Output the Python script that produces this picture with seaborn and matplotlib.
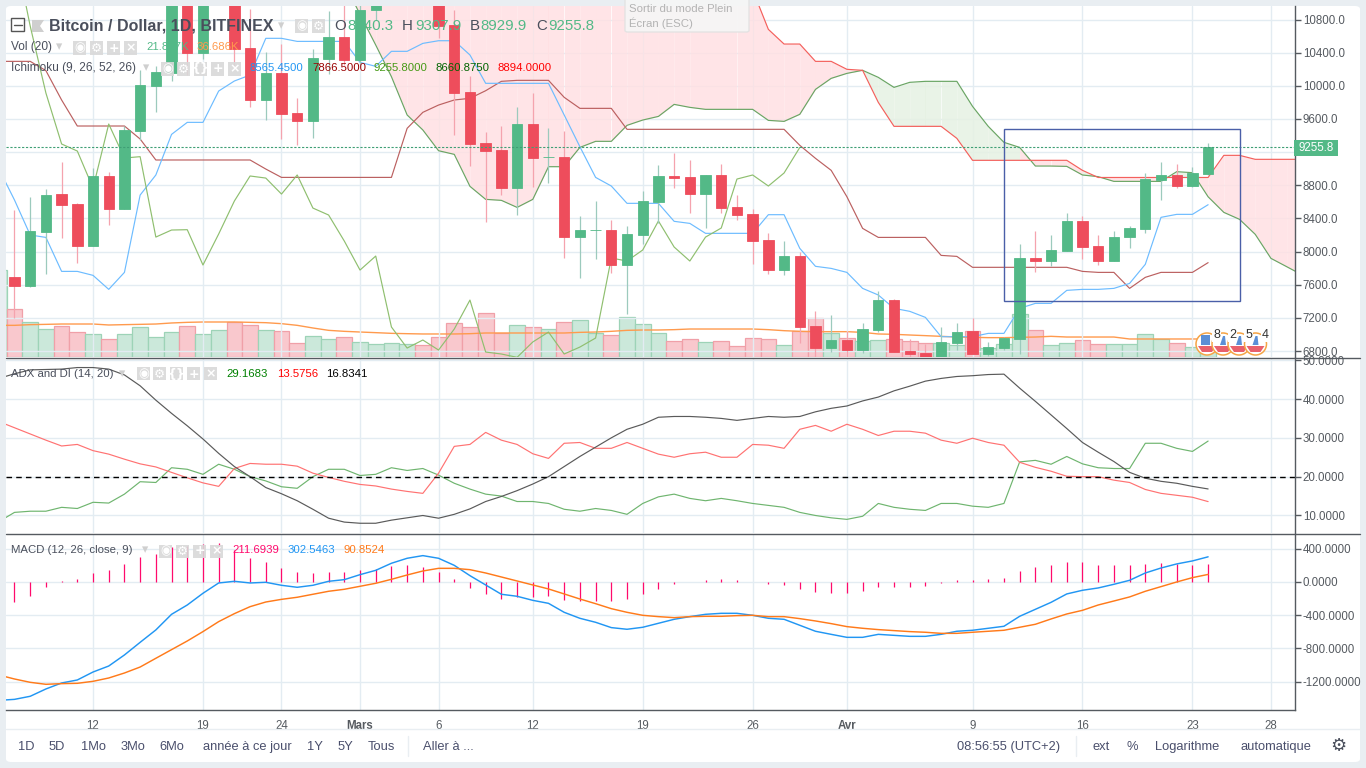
import numpy as np
import pandas as pd
import seaborn as sns
import matplotlib.pyplot as plt
from matplotlib.patches import Rectangle, FancyBboxPatch, Polygon, Ellipse
from matplotlib.lines import Line2D

# day index: 0 = 7 Feb, last candle (76) = 24 Apr, first entry is the bar cut off at the left edge
days = np.arange(-1, 77)

opens = [7300, 7693, 7584, 8236, 8694, 8574, 8067, 8912, 8513, 9455, 9997, 10154, 11050, 10400, 11000, 11200, 10456,
         9829, 10154, 9672, 9575, 10323, 10589, 10311, 10914, 11100, 11300, 11800, 11650, 10733, 9925, 9310, 9225,
         8767, 9539, 9141, 9141, 8175, 8260, 8260, 7838, 8200, 8598, 8912, 8899, 8694, 8924, 8538, 8453, 8139, 7777,
         7946, 7102, 6836, 6933, 6812, 7053, 7415, 6800, 6776, 6712, 6897, 7041, 6764, 6836, 6945, 7922, 7886, 8007,
         8369, 8067, 7886, 8175, 8272, 8863, 8924, 8791, 8940.3]
highs = [7900, 8501, 8662, 8755, 9080, 8586, 9008, 8960, 9515, 10191, 10240, 11150, 11100, 11050, 11300, 11250, 10927,
         10408, 10504, 9853, 10444, 10902, 11000, 11020, 11200, 11350, 11550, 11900, 11700, 10914, 10118, 9442, 9515,
         9744, 9913, 9491, 9455, 8429, 8610, 8381, 8308, 8731, 9044, 9189, 9105, 8924, 9056, 8682, 8513, 8224, 8127,
         8000, 7283, 7234, 7041, 7138, 7524, 7427, 6941, 6880, 7090, 7138, 7198, 6909, 6975, 8091, 8248, 8200, 8465,
         8429, 8200, 8248, 8308, 8948, 9080, 9056, 9020, 9307.9]
lows = [7000, 7194, 7576, 7729, 8163, 7862, 8067, 8320, 8513, 9346, 9684, 10058, 10130, 10323, 10990, 10231, 9744,
        9587, 9358, 9286, 9370, 10142, 10250, 10250, 10794, 11050, 11200, 11500, 10577, 9406, 9032, 8357, 8682,
        8441, 8779, 8827, 7922, 7681, 7910, 7741, 7246, 8091, 8340, 8767, 8465, 8284, 8465, 8381, 7850, 7729, 7717,
        6893, 6724, 6788, 6724, 6772, 7029, 6788, 6712, 6700, 6700, 6812, 6764, 6740, 6812, 6764, 7753, 7826, 8007,
        7910, 7838, 7886, 8043, 8224, 8622, 8767, 8779, 8929.9]
closes = [7700, 7584, 8248, 8682, 8562, 8067, 8912, 8513, 9467, 10010, 10166, 11000, 10400, 11000, 11200, 10444, 9829,
          10154, 9660, 9575, 10335, 10589, 10311, 10914, 11100, 11300, 11500, 11650, 10721, 9913, 9298, 9213, 8767,
          9539, 9129, 9145, 8175, 8260, 8264, 7838, 8212, 8610, 8912, 8887, 8694, 8924, 8525, 8441, 8127, 7777, 7946,
          7090, 6836, 6933, 6812, 7065, 7415, 6788, 6764, 6724, 6909, 7029, 6764, 6848, 6957, 7922, 7886, 8019, 8369,
          8055, 7886, 8175, 8284, 8875, 8924, 8791, 8948, 9255.8]

volume = [178, 98, 72, 57, 64, 50, 47, 37, 47, 62, 41, 50, 64, 47, 56, 72, 66, 56, 52, 29, 43, 37, 41, 31, 26, 29, 26,
          24, 41, 69, 61, 90, 49, 65, 61, 57, 72, 75, 49, 45, 81, 67, 49, 33, 37, 31, 33, 22, 39, 37, 24, 52, 79, 49,
          39, 33, 35, 37, 33, 29, 29, 24, 53, 18, 26, 88, 55, 24, 29, 35, 26, 26, 26, 47, 37, 29, 20, 21.877]
volume_ma = [64.5, 64.5, 65.9, 66.5, 67.2, 67.2, 67.2, 65.2, 65.9, 66.5, 67.2, 69.3, 70.6, 71.3, 71.3, 71.3, 70.6, 69.9,
             67.9, 64.5, 59.1, 54.3, 52.3, 50.9, 49.6, 48.2, 47.5, 46.9, 46.9, 46.9, 47.5, 48.9, 48.9, 48.9, 48.9, 48.9,
             48.9, 50.2, 50.9, 52.3, 54.3, 55, 55, 55.7, 57, 57, 57, 57, 57, 55.7, 53.6, 52.3, 51.6, 51.6, 51.6, 50.2,
             46.9, 46.2, 44.8, 43.5, 42.1, 40.7, 40.1, 39.4, 39.4, 40.1, 40.7, 42.1, 40.7, 40.7, 40.7, 40.7, 36.686,
             36.686, 36.686, 36.686, 36.686, 36.686]

tenkan = [9000, 8622, 8200, 8171, 7761, 7761, 7713, 7544, 7749, 8682, 8924, 9414, 9559, 9559, 9937, 10058, 10130, 10573,
          10573, 10536, 10536, 10536, 10536, 10283, 10235, 10416, 10416, 10512, 10544, 10544, 10372, 10030, 10030, 10030,
          10030, 10030, 9648, 9265, 8895, 8791, 8582, 8582, 8582, 8365, 8340, 8220, 8220, 8220, 8220, 8445, 8445, 8039,
          7822, 7797, 7749, 7556, 7476, 7315, 7279, 7206, 6973, 6973, 6973, 7013, 7013, 7315, 7375, 7375, 7532, 7544,
          7544, 7556, 7616, 7846, 8413, 8449, 8449, 8565.45]
kijun = [10295, 10295, 10295, 10183, 9829, 9515, 9515, 9515, 9515, 9358, 9105, 9105, 9105, 9105, 9105, 9105, 9105, 8996,
         8895, 8895, 8895, 8895, 8895, 8895, 8895, 8895, 9487, 9680, 9768, 9829, 9849, 9941, 10054, 10066, 10066, 10066,
         9861, 9728, 9728, 9728, 9475, 9475, 9475, 9475, 9475, 9475, 9475, 9475, 9475, 9475, 9475, 9282, 9125, 8980,
         8662, 8280, 8171, 8171, 8171, 8171, 7954, 7942, 7810, 7810, 7810, 7810, 7810, 7810, 7810, 7761, 7749, 7749,
         7556, 7689, 7749, 7749, 7749, 7866.5]

# leading spans run from day 20 to day 82, the first ones sit above the visible range
span_days = np.arange(20, 83)
span_a = [11500, 11240, 10862, 10492, 10110, 9648, 9467, 9217, 9173, 8787, 8630, 8618, 8533, 8630, 9024, 9024, 9257,
          9330, 9330, 9523, 9587, 9631, 9776, 9740, 9716, 9716, 9716, 9716, 9583, 9571, 9656, 9957, 10090, 10150, 10187,
          10102, 9981, 10042, 10054, 10054, 10054, 9752, 9511, 9318, 9257, 9032, 9032, 9028, 8924, 8904, 8847, 8847,
          8847, 8847, 8964, 8952, 8660.875, 8473, 8389, 8208, 7918, 7818, 7717]
span_b = [11400, 11400, 11400, 11400, 11400, 11400, 11400, 11400, 11400, 11400, 11400, 11400, 11400, 11400, 11400, 11400,
          11400, 11400, 11400, 11400, 11400, 11400, 11400, 11400, 11400, 11400, 11400, 11156, 10681, 10504, 10504, 10295,
          10295, 10199, 10187, 9800, 9511, 9511, 9511, 9511, 9366, 9101, 9101, 9101, 9101, 9101, 9101, 9101, 8980, 8894,
          8894, 8894, 8894, 8894, 8894, 8894, 8894, 9161, 9161, 9113, 9113, 9113, 9113]

di_plus = [8.4, 10.8, 11.1, 11.1, 12.1, 11.8, 13.4, 13.2, 15.5, 18.7, 18.5, 22.3, 21.9, 20.6, 23.2, 21.9, 20, 18.9, 17.4,
           17, 20, 21.9, 21.9, 20.3, 20.6, 22.3, 21.6, 22.1, 20.4, 18.3, 16.8, 15.5, 15, 13.6, 13.6, 13.1, 11.6, 11.1,
           11.8, 11.3, 10.3, 13.1, 14.8, 15.5, 14.4, 13.8, 14.4, 13.8, 13.1, 12.6, 12.1, 10.8, 10, 9.4, 9, 9.8, 13.1,
           12.1, 11.6, 11.3, 13.1, 13.1, 12.4, 12.1, 13.1, 23.8, 24.2, 23.2, 25.2, 23.3, 22.3, 22.1, 22.1, 28.6, 28.6,
           27.3, 26.5, 29.1683]
di_minus = [34.2, 32.6, 31, 29.4, 27.9, 28.3, 26.7, 25.8, 24.5, 23.3, 22.5, 21.1, 19.7, 18.4, 17.5, 22.1, 23.4, 23.2, 23.2,
            22.7, 20.9, 19.8, 18.8, 18, 17.6, 16.8, 16.2, 15.7, 20.9, 27.8, 28.3, 31.4, 29.4, 28.3, 25.9, 24.7, 28.6, 28.8,
            27.3, 27.3, 28.8, 27.3, 25.8, 25, 25.9, 26.3, 25, 25, 28.3, 28.1, 27.3, 32.2, 33.2, 31.7, 33.5, 32.2, 30.6,
            31.7, 31.7, 31.2, 29.4, 28.6, 29.9, 28.8, 28.1, 23.7, 22.4, 21.4, 20.1, 20, 20, 19.1, 18.5, 16.7, 15.7, 15.2,
            14.7, 13.5756]
adx = [45.3, 46.5, 47.5, 47.6, 47.7, 48.1, 48.1, 47.7, 46.2, 43.4, 39.7, 36.3, 33.1, 29.7, 26, 22.6, 20, 17.2, 15.6, 13.8,
       11.6, 9.3, 8.3, 8, 8, 8.8, 9.4, 10, 9.3, 10.3, 11.7, 13.6, 14.9, 16.4, 18.1, 20, 22.6, 25.2, 27.6, 30, 32.2, 33.5,
       35.3, 35.5, 35.5, 35.3, 35, 34.5, 35, 35.5, 35.3, 35.5, 36.7, 37.6, 38.2, 39.5, 40.5, 42.1, 43.3, 44.6, 45.3, 45.8,
       46, 46.3, 46.4, 42.8, 39.4, 35.9, 32.4, 28.8, 26.3, 23.9, 21.1, 19.6, 18.8, 18.3, 17.5, 16.8341]

macd = [-1424, -1412, -1375, -1287, -1215, -1179, -1083, -1011, -878, -726, -577, -389, -277, -136, -12, 8, -12, -4, -40,
        -64, -40, 8, 28, 88, 140, 225, 285, 317, 285, 200, 76, -36, -148, -172, -221, -257, -365, -437, -485, -549, -569,
        -545, -497, -449, -417, -389, -377, -377, -401, -437, -449, -521, -593, -630, -666, -666, -630, -642, -654, -654,
        -630, -593, -581, -557, -533, -413, -329, -245, -144, -100, -72, -28, 20, 108, 168, 217, 253, 302.5463]
signal = [-1119, -1167, -1207, -1231, -1223, -1219, -1195, -1155, -1095, -1023, -918, -814, -710, -597, -477, -381, -297,
          -241, -209, -184, -148, -112, -88, -52, -16, 32, 84, 132, 164, 164, 148, 108, 60, 12, -36, -84, -144, -205, -261,
          -321, -365, -401, -417, -429, -417, -413, -413, -405, -401, -417, -417, -441, -469, -501, -537, -557, -573, -585,
          -597, -605, -618, -618, -605, -593, -581, -545, -509, -445, -385, -341, -277, -229, -180, -112, -56, 0, 52, 90.8524]

last_price = 9255.8
box_days = [63, 78]
box_prices = [7399, 9475]
adx_level = 20

date_ticks = [5, 12, 17, 22, 27, 33, 40, 47, 53, 61, 68, 75, 80]
date_labels = ["12", "19", "24", "Mars", "6", "12", "19", "26", "Avr", "9", "16", "23", "28"]
price_ticks = [6800, 7200, 7600, 8000, 8400, 8800, 9200, 9600, 10000, 10400, 10800]
# the 9200 label sits under the last price tag
price_labels = ["6800.0", "7200.0", "7600.0", "8000.0", "8400.0", "8800.0", "", "9600.0", "10000.0", "10400.0",
                "10800.0"]
adx_ticks = [10, 20, 30, 40, 50]
adx_labels = ["10.0000", "20.0000", "30.0000", "40.0000", "50.0000"]
macd_ticks = [-1200, -800, -400, 0, 400]
macd_labels = ["-1200.0000", "-800.0000", "-400.0000", "0.0000", "400.0000"]

W, H = 1366, 768
UP, DOWN = "#53b987", "#ee4d5c"
GRID = "#e3ecf2"
AXIS = "#555a60"
TEXT = "#4a4f5c"

sns.set_theme(style="white")
plt.rcParams['font.family'] = ['Liberation Sans', 'DejaVu Sans']

fig = plt.figure(figsize=(W / 100, H / 100), dpi=100, facecolor="#e9eef2")


def fx(x):
    return x / W


def fy(y):
    return 1 - y / H


def pane(top, bottom):
    return [fx(6), fy(bottom), fx(1288.5), (bottom - top) / H]


def style_axis(ax, ticks, labels):
    ax.set_xlim(-0.541, 81.5)
    ax.set_xticks(date_ticks)
    ax.set_yticks(ticks)
    ax.set_yticklabels(labels)
    ax.yaxis.tick_right()
    ax.grid(True, color=GRID, lw=1)
    ax.set_axisbelow(True)
    ax.tick_params(axis="y", length=4, width=1, color=AXIS, labelcolor=AXIS, labelsize=8.3, pad=2)
    ax.tick_params(axis="x", length=0, labelbottom=False)
    for s in ["top", "left", "bottom"]:
        ax.spines[s].set_visible(False)
    ax.spines["right"].set_color(AXIS)
    ax.spines["right"].set_linewidth(1)
    ax.set_xlabel("")
    ax.set_ylabel("")


def line(ax, x, y, color, lw=0.85):
    sns.lineplot(x=x, y=y, ax=ax, color=color, lw=lw, estimator=None, errorbar=None, sort=False, legend=False)


# white card behind everything
fig.add_artist(FancyBboxPatch((fx(6), fy(762)), fx(1354), 756 / H, boxstyle="round,pad=0,rounding_size=0.004",
                              transform=fig.transFigure, fc="white", ec="none", zorder=-5))

# volume sits in its own axes under the price axes
ax_vol = fig.add_axes(pane(6, 357), zorder=1)
ax_price = fig.add_axes(pane(6, 357), zorder=2)
ax_adx = fig.add_axes(pane(358, 533), zorder=2)
ax_macd = fig.add_axes(pane(534, 710), zorder=2)

opens_a, highs_a, lows_a, closes_a = map(np.array, (opens, highs, lows, closes))
rising = closes_a >= opens_a

ax_vol.bar(days, volume, width=1.0, color=np.where(rising, "#cbe8da", "#f9c8cd"),
           edgecolor=np.where(rising, "#9dd3b7", "#f0a0a8"), linewidth=0.9)
line(ax_vol, days, volume_ma, "#ff9a4d", 1.0)
ax_vol.set_xlim(-0.541, 81.5)
ax_vol.set_ylim(0, 715)
ax_vol.axis("off")

# price pane
ax_price.patch.set_alpha(0)
style_axis(ax_price, price_ticks, price_labels)
ax_price.set_ylim(6728, 10963)

span_a_arr, span_b_arr = np.array(span_a), np.array(span_b)
for k in range(len(span_days) - 1):
    cloud = "#ffe0e3" if span_b_arr[k + 1] >= span_a_arr[k + 1] else "#e6f1e3"
    ax_price.fill_between(span_days[k:k + 2], span_a_arr[k:k + 2], span_b_arr[k:k + 2], color=cloud, lw=0, alpha=0.85,
                          zorder=1.2)

line(ax_price, span_days, span_a, "#6aa564")
line(ax_price, span_days, span_b, "#f4605c")
line(ax_price, days, kijun, "#bb6060")
line(ax_price, days, tenkan, "#6dbcff")
line(ax_price, days - 26, closes, "#8fbf6f")

ax_price.vlines(days, lows, highs, colors=np.where(rising, "#9ccabd", "#f5a3ae"), lw=0.9, zorder=3)
ax_price.bar(days, np.abs(closes_a - opens_a), bottom=np.minimum(opens_a, closes_a), width=0.66,
             color=np.where(rising, UP, DOWN), edgecolor=np.where(rising, UP, DOWN), linewidth=0.6, zorder=3.1)

ax_price.axhline(last_price, color="#3f9f75", ls=(0, (2, 1.5)), lw=0.8, zorder=3.2)
ax_price.add_patch(Rectangle((box_days[0], box_prices[0]), box_days[1] - box_days[0], box_prices[1] - box_prices[0],
                             fc="none", ec="#4a5fa8", lw=1, zorder=4))

# ADX pane
style_axis(ax_adx, adx_ticks, adx_labels)
ax_adx.set_ylim(5.49, 50.56)
line(ax_adx, days, di_plus, "#6fb56f")
line(ax_adx, days, di_minus, "#ff7272")
line(ax_adx, days, adx, "#5a5a5a")
ax_adx.axhline(adx_level, color="black", ls=(0, (4, 3)), lw=1)

# MACD pane
style_axis(ax_macd, macd_ticks, macd_labels)
ax_macd.set_ylim(-1540, 577)
hist = np.array(macd) - np.array(signal)
ax_macd.vlines(days, 0, hist, colors="#ff0a6c", lw=0.9)
line(ax_macd, days, macd, "#2196f3", 1.05)
line(ax_macd, days, signal, "#ff7a1a", 1.05)

ax_macd.spines["bottom"].set_visible(True)
ax_macd.spines["bottom"].set_color(AXIS)
ax_macd.spines["bottom"].set_linewidth(1)
ax_macd.set_xticks(date_ticks)
ax_macd.set_xticklabels(date_labels)
ax_macd.tick_params(axis="x", length=4, width=1, color=AXIS, labelbottom=True, labelsize=8.3, labelcolor=AXIS, pad=3)
for lab, txt in zip(ax_macd.get_xticklabels(), date_labels):
    if txt in ("Mars", "Avr"):
        lab.set_fontweight("bold")

# full width separators and toolbar rule
for y in (357.5, 533.5):
    fig.add_artist(Line2D([fx(6), fx(1360)], [fy(y), fy(y)], color=AXIS, lw=1, zorder=4))
fig.add_artist(Line2D([fx(6), fx(1360)], [fy(729), fy(729)], color="#e9eef2", lw=1, zorder=4))
for x in (408, 1076):
    fig.add_artist(Line2D([fx(x), fx(x)], [fy(736), fy(756)], color="#e9eef2", lw=1, zorder=4))


def label(x, y, s, color=TEXT, size=8.6, **kw):
    return fig.text(fx(x), fy(y), s, color=color, fontsize=size, va="center", ha=kw.pop("ha", "left"), zorder=6, **kw)


def buttons(xs, y, glyphs):
    for x, g in zip(xs, glyphs):
        fig.add_artist(Rectangle((fx(x), fy(y + 6.5)), 13 / W, 13 / H, transform=fig.transFigure, fc="#d9d9d9", ec="none",
                                 alpha=0.9, zorder=5))
        fig.text(fx(x + 6.5), fy(y), g, color="white", fontsize=9, ha="center", va="center", zorder=6,
                 family=["DejaVu Sans"], fontweight="bold")


def caret(x, y):
    fig.text(fx(x), fy(y), "▾", color="#cfcfcf", fontsize=9, ha="center", va="center", zorder=6, family=["DejaVu Sans"])


# legend rows
fig.add_artist(Rectangle((fx(11), fy(31)), 13 / W, 13 / H, transform=fig.transFigure, fc="white", ec="#555555", lw=1, zorder=5))
fig.add_artist(Line2D([fx(13.5), fx(21.5)], [fy(24.5), fy(24.5)], color="#555555", lw=1, zorder=6))
fig.add_artist(Polygon([(fx(32), fy(20)), (fx(44), fy(20)), (fx(40), fy(26)), (fx(44), fy(32)), (fx(32), fy(32))],
                       transform=fig.transFigure, fc="#cfcfcf", ec="none", zorder=5))
label(49, 26, "Bitcoin / Dollar, 1D, BITFINEX", "#4a4f5c", 11.5, fontweight="bold")
caret(281, 26)
buttons([295, 312], 26, ["◉", "⚙"])
for x, s, c in zip([334, 347, 402, 415, 470, 480, 536, 548],
                   ["O", "8940.3", "H", "9307.9", "B", "8929.9", "C", "9255.8"],
                   [TEXT, UP, TEXT, UP, TEXT, UP, TEXT, UP]):
    label(x, 26, s, c, 10.8)

label(11, 47, "Vol (20)")
caret(59, 47)
buttons([73, 90, 107, 124], 48, ["◉", "⚙", "+", "×"])
label(146, 47, "21.877K", UP, 8.2)
label(197, 47, "36.686K", "#ff9a4d", 8.2)

label(11, 68, "Ichimoku (9, 26, 52, 26)")
caret(146, 68)
buttons([161, 177, 194, 211, 228], 69, ["◉", "⚙", "{}", "+", "×"])
for x, s, c in zip([250, 312, 374, 436, 498], ["8565.4500", "7866.5000", "9255.8000", "8660.8750", "8894.0000"],
                   ["#2196f3", "#990000", "#459915", "#006400", "#ff0000"]):
    label(x, 68, s, c, 8.2)

label(11, 374, "ADX and DI (14, 20)", size=8.2)
caret(122, 374)
buttons([137, 153, 170, 187, 204], 374, ["◉", "⚙", "{}", "+", "×"])
for x, s, c in zip([226, 277, 326], ["29.1683", "13.5756", "16.8341"], ["#008000", "#ff0000", "#000000"]):
    label(x, 374, s, c, 8.2)

label(11, 550, "MACD (12, 26, close, 9)", size=8.2)
caret(145, 550)
buttons([159, 176, 193, 210], 551, ["◉", "⚙", "+", "×"])
for x, s, c in zip([232, 288, 344], ["211.6939", "302.5463", "90.8524"], ["#ff0a6c", "#2196f3", "#ff7a1a"]):
    label(x, 550, s, c, 8.2)

# last price tag
fig.add_artist(Rectangle((fx(1294), fy(155.7)), 44 / W, 15.7 / H, transform=fig.transFigure, fc=UP, ec="none", zorder=5))
label(1316, 148, "9255.8", "white", 8.3, ha="center")

# fullscreen tooltip
fig.add_artist(FancyBboxPatch((fx(625), fy(32)), 124 / W, 34 / H, boxstyle="round,pad=0,rounding_size=0.002",
                              transform=fig.transFigure, fc="#f6f6f6", ec="#e2e2e2", lw=1, alpha=0.92, zorder=5))
label(629, 9, "Sortir du mode Plein", "#b3b3b3", 8.2)
label(629, 23, "Écran (ESC)", "#b3b3b3", 8.2)

# earnings flags
for cx, n, wide in zip([1207, 1223, 1239, 1255.5], ["8", "2", "5", "4"], [True, False, False, False]):
    fig.add_artist(Ellipse((fx(cx), fy(344)), 22 / W, 22 / H, transform=fig.transFigure, fc="white", ec="#f5a445", lw=1.1,
                           zorder=5))
    fig.add_artist(Polygon([(fx(cx - 9), fy(346)), (fx(cx + 9), fy(346)), (fx(cx + 5), fy(352)), (fx(cx - 5), fy(352))],
                           transform=fig.transFigure, fc="#e8606c", ec="none", zorder=5))
    if wide:
        fig.add_artist(Rectangle((fx(cx - 6), fy(345)), 9 / W, 10 / H, transform=fig.transFigure, fc="#5b8fd6", ec="none", zorder=5))
    else:
        fig.add_artist(Polygon([(fx(cx - 3), fy(345)), (fx(cx + 3), fy(345)), (fx(cx + 2), fy(336)), (fx(cx), fy(336))],
                               transform=fig.transFigure, fc="#5b8fd6", ec="none", zorder=5))
    label(cx + 9.5, 335, n, "#333333", 9, ha="center",
          bbox=dict(fc="white", ec="none", pad=0.6))

# bottom toolbar
for x, s in zip([26, 57, 93, 133, 172, 247, 315, 345, 381, 448],
                ["1D", "5D", "1Mo", "3Mo", "6Mo", "année à ce jour", "1Y", "5Y", "Tous", "Aller à ..."]):
    label(x, 747, s, "#4a4f6c", 9.3, ha="center")
for x, s in zip([1009, 1101, 1132, 1187, 1276],
                ["08:56:55 (UTC+2)", "ext", "%", "Logarithme", "automatique"]):
    label(x, 747, s, "#4a4f6c", 9.3, ha="center")
fig.text(fx(1338), fy(746), "⚙", color="#4a4f5c", fontsize=13, ha="center", va="center", family=["DejaVu Sans"], zorder=6)

fig.savefig("out.png", dpi=100, facecolor=fig.get_facecolor())
